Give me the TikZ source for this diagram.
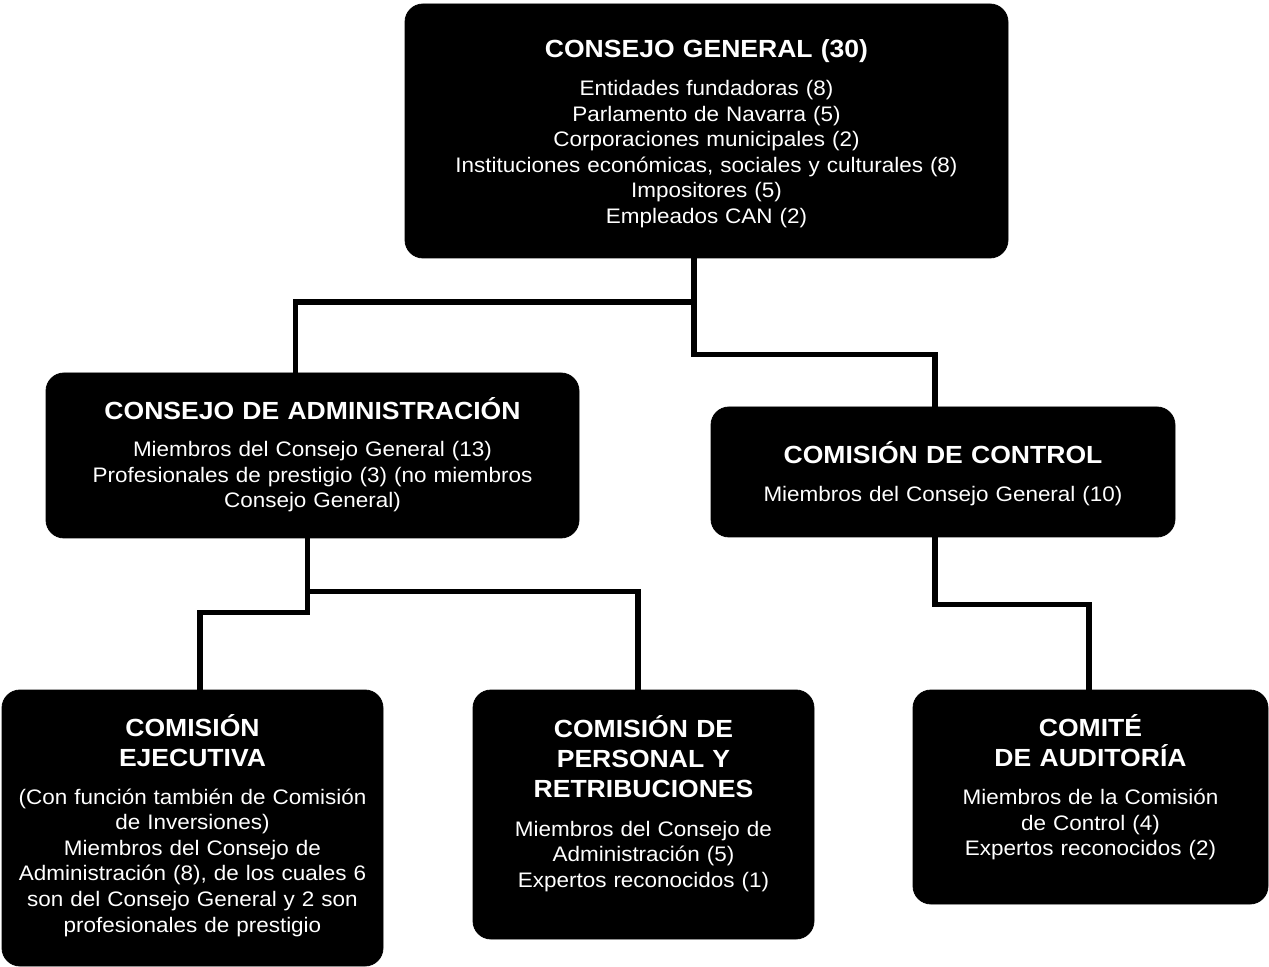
\documentclass[tikz,border=0pt]{standalone}
\usepackage{fontspec}
\setmainfont{Liberation Sans}[FakeStretch=1.07]
\begin{document}
\begin{tikzpicture}[x=0.5pt,y=-0.5pt,
		caja/.style={draw=black,fill=black,rounded corners=9pt,inner sep=0pt},
		titulo/.style={text=white,anchor=base,align=center,inner sep=0pt,font=\fontsize{12.4}{15}\selectfont\bfseries},
		texto/.style={text=white,anchor=base,align=center,inner sep=0pt,font=\fontsize{10.5}{12.8}\selectfont},
		linea/.style={line width=2.8pt}]
			\useasboundingbox (0,0) rectangle (1269,967);
			
			\node[caja,minimum width=301.5pt,minimum height=127pt] (cg) at (706.5,131) {};
			\node[caja,minimum width=266.5pt,minimum height=82.5pt] (cda) at (312.5,455.5) {};
			\node[caja,minimum width=232pt,minimum height=65pt] (cdc) at (943,472) {};
			\node[caja,minimum width=190.5pt,minimum height=138pt] (ce) at (192.5,828) {};
			\node[caja,minimum width=170.5pt,minimum height=124.5pt] (cpr) at (643.5,814.5) {};
			\node[caja,minimum width=177.5pt,minimum height=107pt] (ca) at (1090.5,797) {};
			
			\draw[linea] ([xshift=-6.25pt]cg.south) -- ++(0,43.7) -| ([xshift=-8.5pt]cda.north);
			\draw[linea] ([xshift=-6.25pt]cg.south) -- ++(0,96) -| ([xshift=-4pt]cdc.north);
			\draw[linea] ([xshift=-2.5pt]cda.south) -- ++(0,53) -| ([xshift=-2.75pt]cpr.north);
			\draw[linea] ([xshift=-2.5pt]cda.south) -- ++(0,74) -| ([xshift=3.75pt]ce.north);
			\draw[linea] ([xshift=-4pt]cdc.south) -- ++(0,67) -| ([xshift=-0.75pt]ca.north);
			
			\path (cg.north) ++(0,53.5) node[titulo,text width=320pt] (cgt) {CONSEJO GENERAL (30)};
			\path (cg.north) ++(0,92) node[texto,text width=320pt] (cgb) {Entidades fundadoras (8)\\
				Parlamento de Navarra (5)\\
				Corporaciones municipales (2)\\
				Instituciones económicas, sociales y culturales (8)\\
				Impositores (5)\\
				Empleados CAN (2)};
			
			\path (cda.north) ++(0,47) node[titulo,text width=290pt] (cdat) {CONSEJO DE ADMINISTRACIÓN};
			\path (cda.north) ++(0,84) node[texto,text width=290pt] (cdab) {Miembros del Consejo General (13)\\
				Profesionales de prestigio (3) (no miembros\\
				Consejo General)};
			
			\path (cdc.north) ++(0,57) node[titulo,text width=250pt] (cdct) {COMISIÓN DE CONTROL};
			\path (cdc.north) ++(0,95.3) node[texto,text width=250pt] (cdcb) {Miembros del Consejo General (10)};
			
			\path (ce.north) ++(0,47.2) node[titulo,text width=210pt] (cet) {COMISIÓN\\EJECUTIVA};
			\path (ce.north) ++(0,114.5) node[texto,text width=210pt] (ceb) {(Con función también de Comisión\\
				de Inversiones)\\
				Miembros del Consejo de\\
				Administración (8), de los cuales 6\\
				son del Consejo General y 2 son\\
				profesionales de prestigio};
			
			\path (cpr.north) ++(0,48) node[titulo,text width=190pt] (cprt) {COMISIÓN DE\\PERSONAL Y\\RETRIBUCIONES};
			\path (cpr.north) ++(0,146.7) node[texto,text width=190pt] (cprb) {Miembros del Consejo de\\
				Administración (5)\\
				Expertos reconocidos (1)};
			
			\path (ca.north) ++(0,47) node[titulo,text width=195pt] (cat) {COMITÉ\\DE AUDITORÍA};
			\path (ca.north) ++(0,115) node[texto,text width=195pt] (cab) {Miembros de la Comisión\\
				de Control (4)\\
				Expertos reconocidos (2)};
		\end{tikzpicture}
\end{document}
